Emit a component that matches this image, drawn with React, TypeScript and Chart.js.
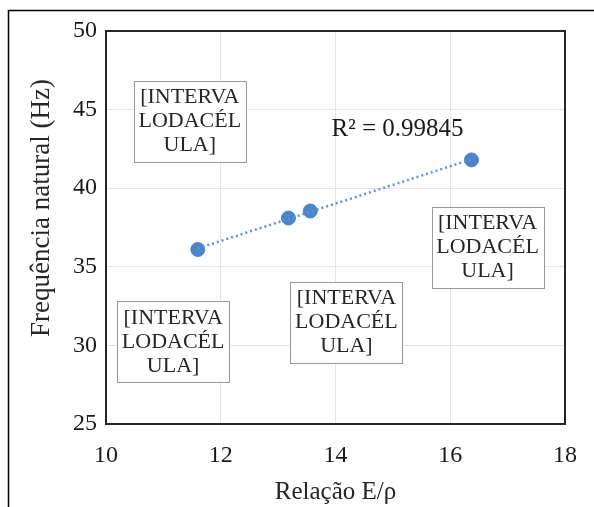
import React, { useEffect, useRef } from "react";
import { Chart, registerables } from "chart.js";

Chart.register(...registerables);

// ---- data ----
const ratioEp = [11.6, 13.18, 13.56, 16.37];
const naturalFreq = [36.1, 38.1, 38.55, 41.8];
const xTickValues = [10, 12, 14, 16, 18];
const yTickValues = [25, 30, 35, 40, 45, 50];
const xTitle = "Relação E/ρ";
const yTitle = "Frequência natural (Hz)";
const r2Label = "R² = 0.99845";
const boxLabelLines = ["[INTERVA", "LODACÉL", "ULA]"];
const boxAnchorX = [11.46, 11.17, 14.19, 16.65];
const boxAnchorY = [44.27, 30.22, 31.47, 36.24];
const r2AnchorX = 15.08;
const r2AnchorY = 43.73;

const SERIF = "'Liberation Serif', 'Times New Roman', serif";

function linearFit(xs: number[], ys: number[]) {
  const n = xs.length;
  const mx = xs.reduce((a, b) => a + b, 0) / n;
  const my = ys.reduce((a, b) => a + b, 0) / n;
  let sxy = 0, sxx = 0;
  for (let i = 0; i < n; i++) {
    sxy += (xs[i] - mx) * (ys[i] - my);
    sxx += (xs[i] - mx) * (xs[i] - mx);
  }
  const slope = sxy / sxx;
  return { slope, intercept: my - slope * mx };
}

export default function App() {
  const ref = useRef<HTMLCanvasElement | null>(null);

  useEffect(() => {
    if (!ref.current) return;
    const fit = linearFit(ratioEp, naturalFreq);
    const xMin = Math.min(...ratioEp);
    const xMax = Math.max(...ratioEp);
    const trend = [
      { x: xMin, y: fit.slope * xMin + fit.intercept },
      { x: xMax, y: fit.slope * xMax + fit.intercept },
    ];

    const decor = {
      id: "decor",
      beforeDraw(chart: any) {
        const ctx = chart.ctx;
        ctx.save();
        ctx.fillStyle = "#ffffff";
        ctx.fillRect(0, 0, chart.width, chart.height);
        ctx.strokeStyle = "#000000";
        ctx.lineWidth = 1.5;
        ctx.beginPath();
        ctx.moveTo(8.5, chart.height);
        ctx.lineTo(8.5, 10.5);
        ctx.lineTo(chart.width, 10.5);
        ctx.stroke();
        ctx.restore();
      },
      afterDraw(chart: any) {
        const ctx = chart.ctx;
        const { left, right, top, bottom } = chart.chartArea;
        const xs = chart.scales.x;
        const ys = chart.scales.y;
        ctx.save();
        // plot frame
        ctx.strokeStyle = "#262626";
        ctx.lineWidth = 2;
        ctx.strokeRect(left, top, right - left, bottom - top);

        // label boxes
        ctx.font = `22px ${SERIF}`;
        ctx.textAlign = "center";
        ctx.textBaseline = "middle";
        for (let i = 0; i < boxAnchorX.length; i++) {
          const cx = xs.getPixelForValue(boxAnchorX[i]);
          const cy = ys.getPixelForValue(boxAnchorY[i]);
          const w = 112, h = 81;
          ctx.fillStyle = "#ffffff";
          ctx.fillRect(cx - w / 2, cy - h / 2, w, h);
          ctx.strokeStyle = "#9a9a9a";
          ctx.lineWidth = 1;
          ctx.strokeRect(Math.round(cx - w / 2) + 0.5, Math.round(cy - h / 2) + 0.5, w, h);
          ctx.fillStyle = "#262626";
          boxLabelLines.forEach((ln, j) => {
            ctx.fillText(ln, cx, cy + (j - 1) * 24);
          });
        }

        // R² label
        ctx.font = `25px ${SERIF}`;
        ctx.fillStyle = "#1a1a1a";
        ctx.fillText(r2Label, xs.getPixelForValue(r2AnchorX), ys.getPixelForValue(r2AnchorY));

        // axis titles
        ctx.font = `25px ${SERIF}`;
        ctx.fillStyle = "#262626";
        ctx.fillText(xTitle, (left + right) / 2, 492);
        ctx.font = `27px ${SERIF}`;
        ctx.translate(42, 208);
        ctx.rotate(-Math.PI / 2);
        ctx.fillText(yTitle, 0, 0);
        ctx.restore();
      },
    };

    const chart = new Chart(ref.current, {
      type: "scatter",
      data: {
        datasets: [
          {
            label: "trend",
            type: "line",
            data: trend,
            borderColor: "#6a8fd0",
            borderWidth: 2.5,
            borderDash: [2, 3],
            pointRadius: 0,
            fill: false,
          } as any,
          {
            label: "data",
            data: ratioEp.map((x, i) => ({ x, y: naturalFreq[i] })),
            backgroundColor: "#4a86c8",
            borderColor: "#4a86c8",
            pointRadius: 7,
            pointHoverRadius: 7,
          },
        ],
      },
      options: {
        animation: false,
        responsive: false,
        layout: { padding: { top: 31, right: 23, left: 0, bottom: 0 } },
        plugins: { legend: { display: false }, tooltip: { enabled: false } },
        scales: {
          x: {
            type: "linear",
            min: xTickValues[0],
            max: xTickValues[xTickValues.length - 1],
            afterBuildTicks: (s: any) => {
              s.ticks = xTickValues.map((v) => ({ value: v }));
            },
            afterFit: (s: any) => {
              s.height = 83;
            },
            ticks: {
              font: { family: SERIF, size: 24 },
              color: "#1a1a1a",
              padding: 17,
              maxRotation: 0,
            },
            grid: { color: "#e6e6e6", drawTicks: false, lineWidth: 1 },
            border: { display: false },
          },
          y: {
            type: "linear",
            min: yTickValues[0],
            max: yTickValues[yTickValues.length - 1],
            afterBuildTicks: (s: any) => {
              s.ticks = yTickValues.map((v) => ({ value: v }));
            },
            afterFit: (s: any) => {
              s.width = 106;
            },
            ticks: {
              font: { family: SERIF, size: 24 },
              color: "#1a1a1a",
              padding: 9,
            },
            grid: { color: "#e6e6e6", drawTicks: false, lineWidth: 1 },
            border: { display: false },
          },
        },
      },
      plugins: [decor],
    });
    return () => chart.destroy();
  }, []);

  return (
    <div style={{ position: "fixed", left: 0, top: 0, width: 594, height: 507 }}>
      <canvas ref={ref} width={594} height={507} style={{ display: "block" }} />
    </div>
  );
}
